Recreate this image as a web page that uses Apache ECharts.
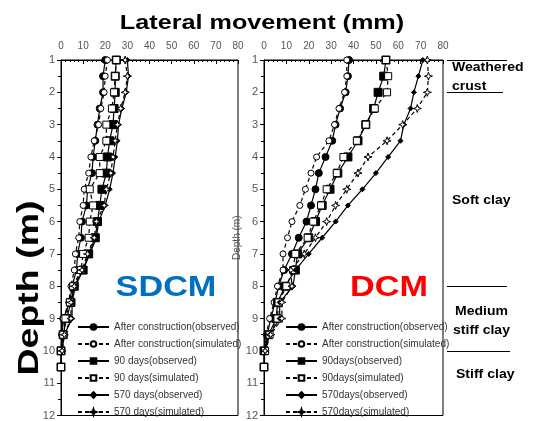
<!DOCTYPE html>
<html><head><meta charset="utf-8">
<script src="https://cdn.jsdelivr.net/npm/echarts@6/dist/echarts.min.js"></script>
<style>html,body{margin:0;padding:0;background:#fff}#c{width:533px;height:421px}</style>
</head><body><div id="c"></div>
<script>
// ---- data ----
const depths = [1,1.5,2,2.5,3,3.5,4,4.5,5,5.5,6,6.5,7,7.5,8,8.5,9,9.5,10,10.5];
const xTicks = [0,10,20,30,40,50,60,70,80];
const depthTicks = [1,2,3,4,5,6,7,8,9,10,11,12];

const namesLeft = ['After construction(observed)','After construction(simulated)','90 days(observed)','90 days(simulated)','570 days(observed)','570 days(simulated)'];
const namesRight = ['After construction(observed)','After construction(simulated)','90days(observed)','90days(simulated)','570days(observed)','570days(simulated)'];

// SDCM panel (lateral movement, mm)
const sdcmAcObs  = [20,19,19,17.5,16.5,15.5,14.5,14,12,11.5,9.5,9,7.5,7,5,4,1,0.5,0,null];
const sdcmAcSim  = [21,20,19.5,18,17,15,13.5,12.5,10.5,10,8.5,8,6.5,6,4.5,3.5,1,0.5,null,null];
const sdcm90Obs  = [25,24.5,24.5,24,23.5,22,21,20.5,18.5,17.5,16.5,15.5,12.5,10,6,4.5,2.5,1,0,0];
const sdcm90Sim  = [25,24.5,24,23,20.5,20.5,17.5,17.5,13,14.5,13,12.5,10,9,5.5,4,2,1,0,0];
const sdcm570Obs = [30,30.5,29.5,27.5,26,25.5,24.5,23.5,22,20,17,16,13,10,6.5,5,5,1.5,0.5,null];
const sdcm570Sim = [29,30,29,27,25.5,24.5,23.5,22.5,20.5,19.5,16,15,12,9.5,6,4.5,4.5,1.5,0.5,null];

// DCM panel (lateral movement, mm)
const dcmAcObs  = [38,37.5,36.5,34,32,30.5,27.5,24.5,23,21,19,15.5,12.5,9,6.5,5,3,1.5,0.5,null];
const dcmAcSim  = [37,37,36,33.5,31.5,29,23.5,21,18.5,16,12.5,10.5,8.5,8.5,6,4.5,2.5,1,0.5,null];
const dcm90Obs  = [54.5,53.5,51,49,45.5,42,37.5,33,29.5,26,23,20,15,14,9.5,6,5.5,2,0,0];
const dcm90Sim  = [54.5,55.5,55,49.5,45.5,41.5,35.5,32.5,28,25.5,22,19.5,14,13,10,6.5,6,2.5,0.5,0];
const dcm570Obs = [71,69,67,65.5,62.5,61,55.5,50,44,37.5,32,26,20,14,13,7,7,2.5,0.5,null];
const dcm570Sim = [73,73.5,73,68.5,62,55,46.5,42,37,32,28,23,18,12,12.5,8,8,3,0.5,null];

// soil layers (depth boundaries, m) and label depths
const layerBounds = [1,2,8,10];
const layerTexts = ['Weathered','crust','Soft clay','Medium','stiff clay','Stiff clay'];
const layerTextDepths = [1.22,1.82,5.35,8.77,9.38,10.72];

// ---- chart ----
const chart = echarts.init(document.getElementById('c'), null, {renderer:'canvas', useDirtyRect:false});
function pairs(vals){ const out=[]; vals.forEach((v,i)=>{ if(v!=null) out.push([v,depths[i]]); }); return out; }

const star = 'path://M0,-10 L2.5,-2.5 L10,0 L2.5,2.5 L0,10 L-2.5,2.5 L-10,0 L-2.5,-2.5 Z';
const styles = [
  {symbol:'circle', size:7, dash:false, fill:'#000'},
  {symbol:'circle', size:6, dash:true, fill:'#fff'},
  {symbol:'rect', size:8, dash:false, fill:'#000'},
  {symbol:'rect', size:7, dash:true, fill:'#fff'},
  {symbol:'diamond', size:5, dash:false, fill:'#000'},
  {symbol:star, size:8, dash:true, fill:'#fff'}
];
const leftData = [sdcmAcObs,sdcmAcSim,sdcm90Obs,sdcm90Sim,sdcm570Obs,sdcm570Sim];
const rightData = [dcmAcObs,dcmAcSim,dcm90Obs,dcm90Sim,dcm570Obs,dcm570Sim];

const series = [];
function addSeries(names, data, idx){
  data.forEach((vals,i)=>{
    const s = styles[i];
    series.push({
      name:names[i], type:'line', xAxisIndex:idx, yAxisIndex:idx,
      data:pairs(vals), symbol:s.symbol, symbolSize:s.size, showSymbol:true, showAllSymbol:true,
      clip:false, silent:true,
      lineStyle:{color:'#000', width:1.2, type:s.dash?[4,3]:'solid'},
      itemStyle:{color:s.fill, borderColor:'#000', borderWidth:1, opacity:1},
      emphasis:{disabled:true},
      animation:false, z:3
    });
  });
}
addSeries(namesLeft, leftData, 0);
addSeries(namesRight, rightData, 1);

function xAxisCfg(gi){
  return {type:'value', gridIndex:gi, position:'top', min:0, max:80, interval:10,
    axisLine:{show:true, lineStyle:{color:'#000', width:1}},
    axisTick:{show:true, inside:true, length:4, lineStyle:{color:'#000'}},
    minorTick:{show:true, splitNumber:5, length:2, lineStyle:{color:'#000'}},
    splitLine:{show:false},
    axisLabel:{show:true, margin:9, color:'#555', fontSize:10, fontFamily:'Arial, "Liberation Sans", sans-serif',
      formatter:v=>xTicks.indexOf(v)>=0?String(v):''}};
}
function yAxisCfg(gi, name){
  return {type:'value', gridIndex:gi, inverse:true, min:1, max:12, interval:1,
    name:name, nameLocation:'middle', nameGap:17, nameRotate:90,
    nameTextStyle:{color:'#555', fontSize:10, fontFamily:'Arial, "Liberation Sans", sans-serif'},
    axisLine:{show:true, lineStyle:{color:'#000', width:1}},
    axisTick:{show:true, inside:false, length:4, lineStyle:{color:'#000'}},
    minorTick:{show:true, splitNumber:2, length:3, lineStyle:{color:'#000'}},
    splitLine:{show:false},
    axisLabel:{show:true, margin:6, color:'#555', fontSize:11, fontFamily:'Arial, "Liberation Sans", sans-serif',
      formatter:v=>depthTicks.indexOf(v)>=0?String(v):''}};
}

function legendCfg(names, left){
  return {data:names, left:left, top:321, orient:'vertical', padding:0, itemWidth:31, itemHeight:7, itemGap:5,
    selectedMode:false,
    textStyle:{color:'#333', fontSize:10, lineHeight:12, fontFamily:'"Liberation Sans Narrow", "Arial Narrow", Arial, sans-serif'}};
}

// annotation positions derived from the same axis layout (grid top 60, height 361, depth 1..12)
const option = {
  backgroundColor:'#fff',
  animation:false,
  grid:[
    {left:61, top:60, width:177, height:361, show:true, borderColor:'#000', borderWidth:1, backgroundColor:'transparent'},
    {left:264, top:60, width:179, height:361, show:true, borderColor:'#000', borderWidth:1, backgroundColor:'transparent'}
  ],
  xAxis:[xAxisCfg(0), xAxisCfg(1)],
  yAxis:[yAxisCfg(0,''), yAxisCfg(1,'Depth (m)')],
  legend:[legendCfg(namesLeft, 77), legendCfg(namesRight, 285)],
  series:series
};
chart.setOption(option);

// annotations
const g = [];
g.push({type:'text', x:262, y:23, scaleX:1.2, style:{text:'Lateral movement (mm)', fill:'#000', font:'bold 21px Arial, "Liberation Sans", sans-serif', align:'center', verticalAlign:'middle'}});
g.push({type:'text', x:30, y:288, rotation:Math.PI/2, scaleX:1.25, style:{text:'Depth (m)', fill:'#000', font:'bold 30px Arial, "Liberation Sans", sans-serif', align:'center', verticalAlign:'middle'}});
g.push({type:'text', x:166, y:288, scaleX:1.18, style:{text:'SDCM', fill:'#0070C0', font:'bold 29px Arial, "Liberation Sans", sans-serif', align:'center', verticalAlign:'middle'}});
g.push({type:'text', x:389, y:288, scaleX:1.18, style:{text:'DCM', fill:'#FF0000', font:'bold 29px Arial, "Liberation Sans", sans-serif', align:'center', verticalAlign:'middle'}});
const lineEnds = [507,503,507,510];
layerBounds.forEach((d,i)=>{
  const y = Math.round(chart.convertToPixel({yAxisIndex:1}, d)) + 0.5;
  g.push({type:'line', shape:{x1:447, y1:y, x2:lineEnds[i], y2:y}, style:{stroke:'#000', lineWidth:1}});
});
const textX = [452,452,452,455,453,456];
layerTexts.forEach((t,i)=>{
  const y = chart.convertToPixel({yAxisIndex:1}, layerTextDepths[i]);
  g.push({type:'text', x:textX[i], y:y, scaleX:1.08,
    style:{text:t, fill:'#000', font:'bold 13px Arial, "Liberation Sans", sans-serif', align:'left', verticalAlign:'middle'}});
});
chart.setOption({graphic:g});
</script>
</body></html>
